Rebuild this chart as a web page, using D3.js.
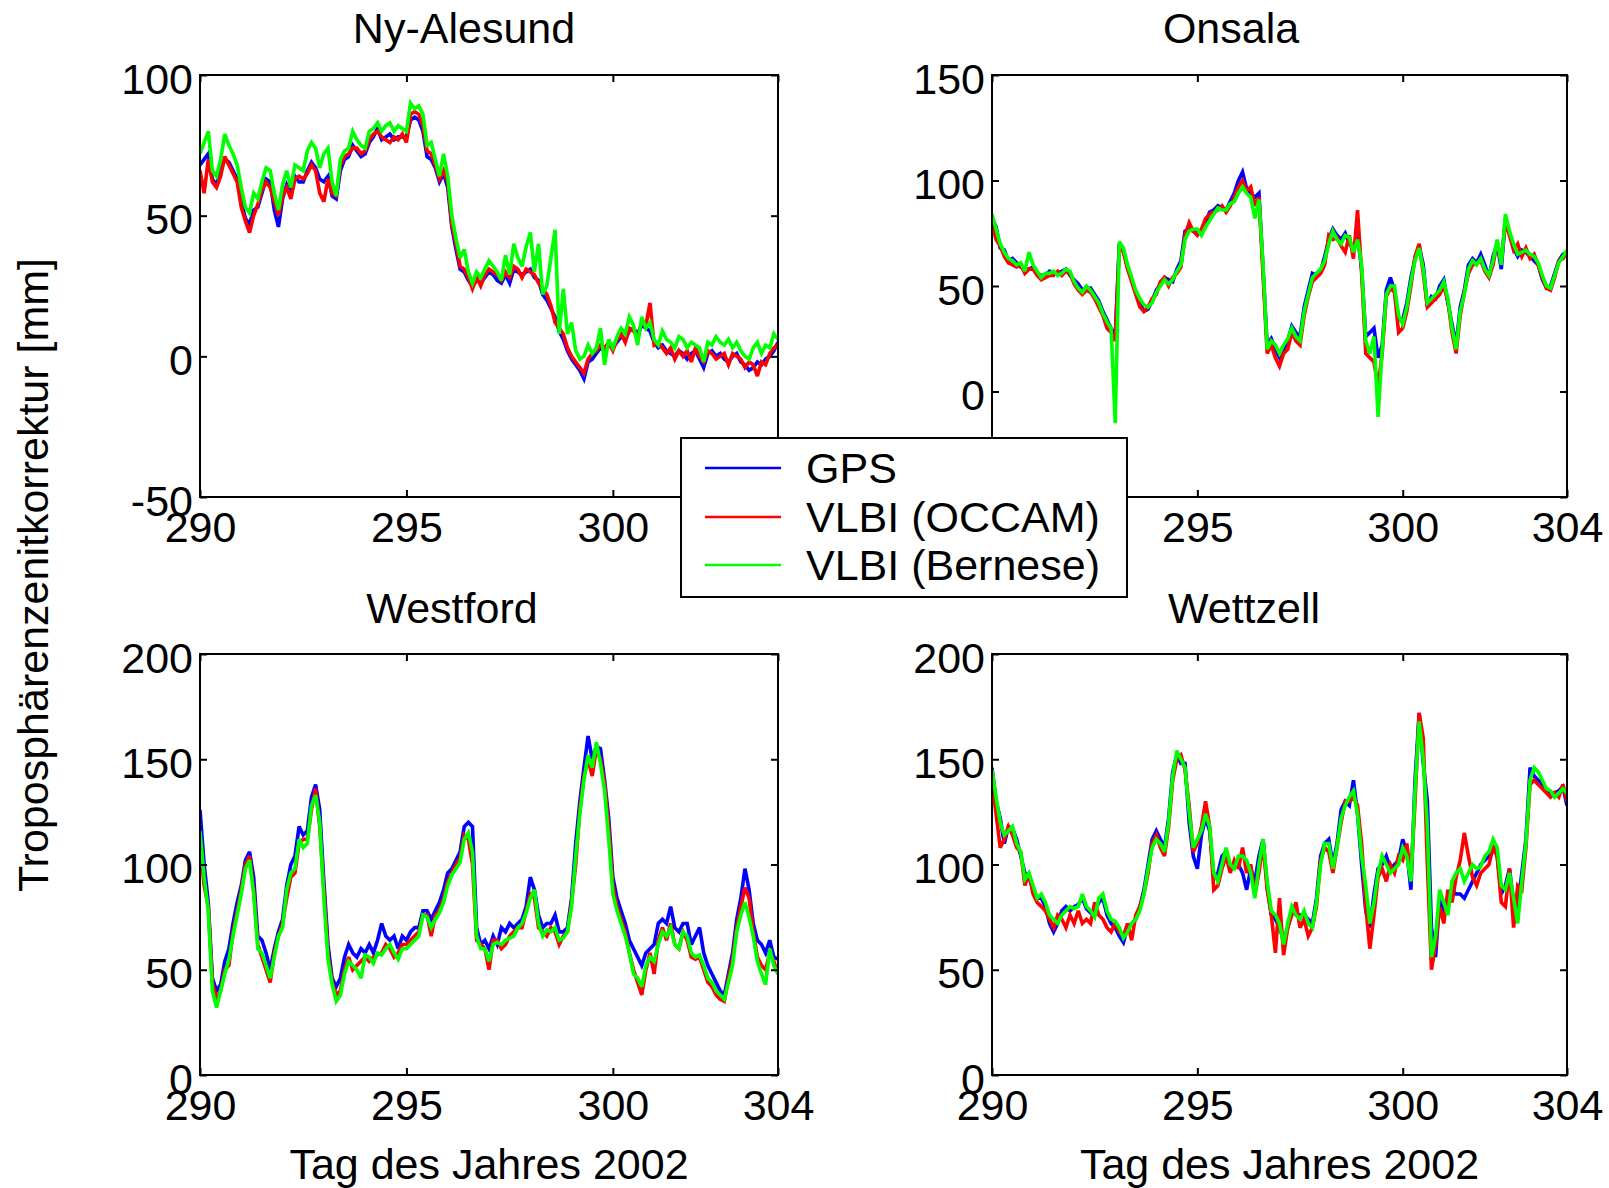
<!DOCTYPE html>
<html><head><meta charset="utf-8">
<script src="https://cdn.jsdelivr.net/npm/d3@7"></script>
<style>
body{margin:0;background:#fff}
svg{display:block}
text{font-family:"Liberation Sans",Arial,Helvetica,sans-serif;fill:#000}
</style>
</head><body>
<svg id="chart" width="1609" height="1188"></svg>
<script>
// ---------------- DATA ----------------
const days = [
290.0,290.1,290.2,290.3,290.4,290.5,290.6,290.7,290.8,290.9,
291.0,291.1,291.2,291.3,291.4,291.5,291.6,291.7,291.8,291.9,
292.0,292.1,292.2,292.3,292.4,292.5,292.6,292.7,292.8,292.9,
293.0,293.1,293.2,293.3,293.4,293.5,293.6,293.7,293.8,293.9,
294.0,294.1,294.2,294.3,294.4,294.5,294.6,294.7,294.8,294.9,
295.0,295.1,295.2,295.3,295.4,295.5,295.6,295.7,295.8,295.9,
296.0,296.1,296.2,296.3,296.4,296.5,296.6,296.7,296.8,296.9,
297.0,297.1,297.2,297.3,297.4,297.5,297.6,297.7,297.8,297.9,
298.0,298.1,298.2,298.3,298.4,298.5,298.6,298.7,298.8,298.9,
299.0,299.1,299.2,299.3,299.4,299.5,299.6,299.7,299.8,299.9,
300.0,300.1,300.2,300.3,300.4,300.5,300.6,300.7,300.8,300.9,
301.0,301.1,301.2,301.3,301.4,301.5,301.6,301.7,301.8,301.9,
302.0,302.1,302.2,302.3,302.4,302.5,302.6,302.7,302.8,302.9,
303.0,303.1,303.2,303.3,303.4,303.5,303.6,303.7,303.8,303.9,
304.0];

const stations = ["Ny-Alesund", "Onsala", "Westford", "Wettzell"];
const seriesNames = ["GPS", "VLBI (OCCAM)", "VLBI (Bernese)"];
const xTicks = [290, 295, 300, 304];
const yTicksNy = [-50, 0, 50, 100];
const yTicksOn = [-50, 0, 50, 100, 150];
const yTicksWf = [0, 50, 100, 150, 200];
const yTicksWz = [0, 50, 100, 150, 200];
const xLabel = "Tag des Jahres 2002";
const yLabel = "Troposphärenzenitkorrektur [mm]";

// Ny-Alesund
const nyGPS = [
68,70,72,63,61,66,70,69,66,63,
55,49,47,52,53,58,63,62,52,46,
56,61,58,64,62,62,66,69,67,63,
62,64,57,56,66,70,71,75,73,71,
72,76,78,81,77,78,79,77,78,78,
78,84,85,84,80,71,70,67,62,65,
60,46,38,31,30,27,25,27,26,28,
30,29,27,26,29,26,31,30,29,30,
31,28,27,22,20,17,14,9,6,2,
-1,-3,-5,-8,-2,-1,1,3,2,4,
3,5,7,6,9,10,8,11,10,9,
5,3,4,2,1,0,2,1,-1,1,
2,-1,-4,1,2,0,1,-1,-2,0,
1,-2,-3,-5,-4,-2,-3,-1,0,2,
5];
const nyOCCAM = [
66,58,70,62,60,64,71,68,65,62,
53,48,44,50,54,59,62,60,55,50,
57,60,56,63,64,63,65,68,66,58,
55,63,58,57,68,71,72,74,74,72,
73,77,79,80,78,77,76,78,77,79,
76,86,87,86,82,73,72,68,63,66,
62,47,40,32,31,28,24,28,25,29,
31,30,29,27,30,28,32,31,28,31,
30,29,26,24,22,18,12,10,8,3,
0,-2,-4,-6,-1,1,2,4,3,5,
2,6,8,5,10,9,7,12,11,19,
4,5,3,1,3,-1,2,0,2,-2,
3,0,-2,2,1,-1,0,1,-3,1,
0,-1,-4,-2,-3,-7,-2,-3,1,3,
4];
const nyBernese = [
72,76,80,66,64,70,79,75,72,68,
60,53,51,58,56,62,67,66,58,52,
61,66,60,68,67,66,73,76,74,67,
72,74,62,57,70,73,74,80,77,75,
74,80,81,83,80,82,83,80,82,81,
80,90,88,89,86,75,76,70,64,72,
64,50,42,35,38,30,26,30,28,31,
34,32,30,27,36,29,40,35,32,39,
44,30,40,22,25,35,45,8,24,8,
12,2,-1,0,4,1,3,10,-3,6,
3,7,10,8,14,11,4,14,10,12,
6,4,9,6,5,3,7,6,3,5,
4,3,-2,5,4,7,5,4,6,3,
5,2,0,-1,3,5,1,4,3,8,
6];

// Onsala
const onGPS = [
82,78,68,67,62,63,61,59,58,58,
59,56,55,55,57,56,56,57,58,55,
53,51,48,49,49,46,43,38,34,30,
26,70,67,59,53,47,42,38,39,43,
48,51,54,53,52,58,62,76,77,76,
75,76,80,85,86,88,87,86,90,94,
100,104,96,94,92,94,58,22,25,20,
16,20,24,31,28,26,40,48,56,55,
57,64,72,77,74,72,75,70,68,74,
58,26,28,30,16,22,48,54,48,34,
34,42,54,63,69,60,40,45,44,50,
53,42,32,22,40,48,60,63,61,65,
60,54,64,70,58,82,75,68,64,67,
66,64,62,60,53,49,50,56,62,65,
66];
const onOCCAM = [
80,72,69,64,61,60,59,60,56,58,
58,55,53,54,55,55,57,55,57,56,
51,48,46,48,47,44,40,36,30,28,
24,69,66,58,52,46,40,38,40,44,
46,52,54,50,54,56,59,74,80,76,
74,77,82,84,85,86,88,85,88,92,
97,100,95,97,88,92,55,18,22,16,
12,18,20,28,24,22,36,45,52,54,
56,60,74,72,73,69,66,74,63,86,
56,18,16,14,2,18,45,49,47,28,
30,38,50,64,70,56,40,42,44,46,
50,43,28,18,36,47,56,60,61,62,
57,54,60,71,62,80,74,67,70,64,
68,63,65,60,54,49,48,54,62,63,
66];
const onBernese = [
84,77,70,66,63,62,60,61,57,66,
60,57,54,56,56,57,55,56,58,57,
52,49,47,50,48,45,42,37,33,30,
-15,71,68,60,54,48,44,41,40,42,
47,50,53,51,53,57,60,72,76,77,
77,74,78,81,84,87,86,86,89,90,
94,97,94,92,82,91,60,20,24,22,
18,22,25,30,26,24,38,46,54,56,
58,62,70,76,72,70,74,73,66,72,
60,24,18,26,-12,20,46,50,50,36,
32,40,52,62,68,58,42,44,46,48,
52,44,30,20,38,46,58,62,60,63,
58,55,62,72,60,84,76,70,65,66,
67,65,64,61,55,50,49,55,61,64,
67];

// Westford
const wfGPS = [
126,100,82,46,40,43,54,60,72,82,
90,102,106,94,66,64,58,50,60,68,
74,90,100,104,118,114,116,132,138,126,
92,62,46,42,46,56,62,58,56,60,
58,62,58,64,72,66,64,66,60,66,
64,68,70,70,78,78,74,78,82,88,
96,98,102,106,118,120,118,70,62,64,
60,66,62,70,68,72,70,72,74,80,
94,88,76,70,72,72,76,68,68,70,
84,110,130,146,161,150,156,155,140,122,
94,84,78,72,64,60,56,52,58,60,
62,72,74,72,80,70,68,72,72,62,
66,70,58,52,48,44,40,38,48,58,
74,84,98,88,72,64,62,58,64,56,
55];
const wfOCCAM = [
110,90,80,44,36,40,50,52,68,78,
88,100,104,88,62,56,50,44,58,66,
72,84,94,96,110,112,112,126,136,118,
88,58,44,38,40,50,56,50,52,54,
56,54,56,57,58,62,60,56,58,62,
62,64,66,68,76,76,66,76,78,84,
92,96,100,103,114,112,100,64,62,60,
50,64,64,60,62,66,68,70,70,78,
86,84,70,68,66,70,68,62,66,68,
82,100,126,142,150,142,155,150,138,118,
90,80,74,68,58,50,44,38,50,58,
48,64,70,64,72,62,60,68,64,56,
55,56,50,44,42,38,36,35,46,55,
70,80,89,84,68,56,52,50,58,54,
48];
const wfBernese = [
116,94,78,40,32,40,48,55,66,76,
86,98,102,86,60,58,52,46,56,66,
70,88,96,98,112,108,110,128,133,120,
84,55,43,35,38,48,54,52,50,46,
57,56,53,58,57,60,62,58,55,60,
60,62,64,66,76,75,70,74,77,82,
90,95,98,101,112,115,106,66,60,60,
54,62,63,62,64,65,66,70,72,77,
84,88,72,66,69,68,70,64,65,68,
80,104,124,140,152,146,158,148,135,112,
86,78,72,66,58,48,46,42,52,56,
54,62,68,66,70,62,60,68,66,58,
56,57,52,46,44,40,38,36,44,52,
68,76,82,75,66,54,48,43,60,52,
48];

// Wettzell
const wzGPS = [
146,130,122,110,118,117,112,104,96,94,
88,84,84,80,72,68,72,78,80,78,
80,81,84,79,77,78,82,84,76,72,
70,66,63,70,72,74,80,88,100,112,
116,112,108,122,144,152,148,148,120,104,
98,114,122,116,94,96,104,106,98,100,
100,96,88,98,92,104,112,90,76,74,
70,64,70,78,76,76,76,74,72,84,
104,110,112,100,110,126,130,128,140,124,
100,78,70,86,98,100,104,98,100,102,
112,106,88,140,172,148,130,70,56,84,
78,80,88,86,86,84,88,92,96,100,
102,104,110,104,86,90,98,82,80,96,
112,146,142,140,138,136,134,134,135,137,
128];
const wzOCCAM = [
140,124,108,112,118,114,108,106,90,96,
86,82,80,78,74,70,76,74,70,76,
72,78,72,74,72,82,76,74,70,68,
72,68,66,72,64,76,80,86,96,110,
114,108,104,118,140,150,152,145,128,106,
110,118,130,118,88,90,98,104,96,102,
98,108,96,100,86,96,110,88,76,58,
84,57,70,76,82,70,74,66,70,80,
102,108,106,96,108,120,130,130,132,128,
110,80,60,76,94,98,92,100,96,104,
102,110,94,130,172,160,100,50,62,80,
72,88,82,94,102,115,104,94,90,96,
98,100,108,104,82,80,98,70,90,88,
108,138,140,138,136,134,132,134,132,138,
130];
const wzBernese = [
145,132,120,114,116,118,110,106,93,96,
90,84,86,82,76,74,72,76,78,80,
79,80,86,80,78,75,84,86,78,74,
73,70,65,68,72,74,78,86,98,108,
112,110,106,120,142,154,150,146,125,108,
112,116,124,118,96,92,100,108,100,98,
104,104,102,96,84,100,112,92,78,76,
72,62,72,80,76,74,78,72,70,82,
100,110,110,98,108,122,128,132,135,124,
104,90,72,82,96,104,100,96,98,100,
108,104,92,135,168,150,118,56,66,88,
82,76,92,96,98,92,96,100,98,99,
104,106,112,108,90,88,96,84,72,92,
110,140,146,144,140,136,135,132,134,136,
134];

// ---------------- LAYOUT ----------------
const FONT = 43;
const colors = ["#0000ff", "#ff0000", "#00ff00"];
const panels = [
  {title: stations[0], series: [nyGPS, nyOCCAM, nyBernese], yDomain: [-50, 100], yTicks: yTicksNy,
   x0: 200, x1: 778, y0: 75, y1: 497, titleX: 464, titleY: 43, showXLabel: false},
  {title: stations[1], series: [onGPS, onOCCAM, onBernese], yDomain: [-50, 150], yTicks: yTicksOn,
   x0: 992, x1: 1567, y0: 75, y1: 497, titleX: 1231, titleY: 43, showXLabel: false},
  {title: stations[2], series: [wfGPS, wfOCCAM, wfBernese], yDomain: [0, 200], yTicks: yTicksWf,
   x0: 200, x1: 778, y0: 654, y1: 1075, titleX: 452, titleY: 623, showXLabel: true},
  {title: stations[3], series: [wzGPS, wzOCCAM, wzBernese], yDomain: [0, 200], yTicks: yTicksWz,
   x0: 992, x1: 1567, y0: 654, y1: 1075, titleX: 1244, titleY: 623, showXLabel: true}
];

const svg = d3.select("#chart");
svg.append("rect").attr("width", 1609).attr("height", 1188).attr("fill", "#fff");
const plain = d => String(d);

panels.forEach((p, i) => {
  const x = d3.scaleLinear().domain([290, 304]).range([p.x0, p.x1]);
  const y = d3.scaleLinear().domain(p.yDomain).range([p.y1, p.y0]);
  const g = svg.append("g");

  const clipId = "clip" + i;
  svg.append("clipPath").attr("id", clipId).append("rect")
    .attr("x", p.x0).attr("y", p.y0).attr("width", p.x1 - p.x0).attr("height", p.y1 - p.y0);

  const line = d3.line().x((d, k) => x(days[k])).y(d => y(d));
  const lg = g.append("g").attr("clip-path", `url(#${clipId})`);
  p.series.forEach((s, k) => {
    lg.append("path").datum(s).attr("d", line)
      .attr("fill", "none").attr("stroke", colors[k])
      .attr("stroke-width", 3.6).attr("stroke-linejoin", "miter").attr("stroke-miterlimit", 3);
  });

  const styleAxis = sel => {
    sel.select(".domain").remove();
    sel.selectAll(".tick line").attr("stroke", "#000").attr("stroke-width", 2);
    sel.selectAll(".tick text").attr("font-size", FONT).attr("font-family", null).attr("fill", "#000");
  };
  g.append("g").attr("transform", `translate(0,${p.y1})`)
    .call(d3.axisBottom(x).tickValues(xTicks).tickSize(-7).tickPadding(14).tickFormat(plain))
    .call(styleAxis);
  g.append("g").attr("transform", `translate(0,${p.y0})`)
    .call(d3.axisTop(x).tickValues(xTicks).tickSize(-7).tickFormat(""))
    .call(styleAxis);
  const ly = g.append("g").attr("transform", `translate(${p.x0},0)`)
    .call(d3.axisLeft(y).tickValues(p.yTicks).tickSize(-7).tickPadding(7).tickFormat(plain))
    .call(styleAxis);
  ly.selectAll(".tick text").attr("dy", "0.42em");
  g.append("g").attr("transform", `translate(${p.x1},0)`)
    .call(d3.axisRight(y).tickValues(p.yTicks).tickSize(-7).tickFormat(""))
    .call(styleAxis);

  g.append("rect").attr("x", p.x0).attr("y", p.y0)
    .attr("width", p.x1 - p.x0).attr("height", p.y1 - p.y0)
    .attr("fill", "none").attr("stroke", "#000").attr("stroke-width", 2);

  g.append("text").attr("x", p.titleX).attr("y", p.titleY)
    .attr("text-anchor", "middle").attr("font-size", FONT).text(p.title);

  if (p.showXLabel) {
    g.append("text").attr("x", (p.x0 + p.x1) / 2).attr("y", 1179)
      .attr("text-anchor", "middle").attr("font-size", FONT).text(xLabel);
  }
});

// y label
svg.append("text").attr("transform", "translate(48,575) rotate(-90)")
  .attr("text-anchor", "middle").attr("font-size", FONT).text(yLabel);

// legend
const leg = svg.append("g");
leg.append("rect").attr("x", 681).attr("y", 438).attr("width", 446).attr("height", 159)
  .attr("fill", "#fff").attr("stroke", "#000").attr("stroke-width", 2);
const legBase = [483, 532, 580];
seriesNames.forEach((name, k) => {
  leg.append("line").attr("x1", 705).attr("x2", 781)
    .attr("y1", legBase[k] - 15).attr("y2", legBase[k] - 15)
    .attr("stroke", colors[k]).attr("stroke-width", 2.6);
  leg.append("text").attr("x", 806).attr("y", legBase[k])
    .attr("font-size", FONT).text(name);
});
</script>
</body></html>
